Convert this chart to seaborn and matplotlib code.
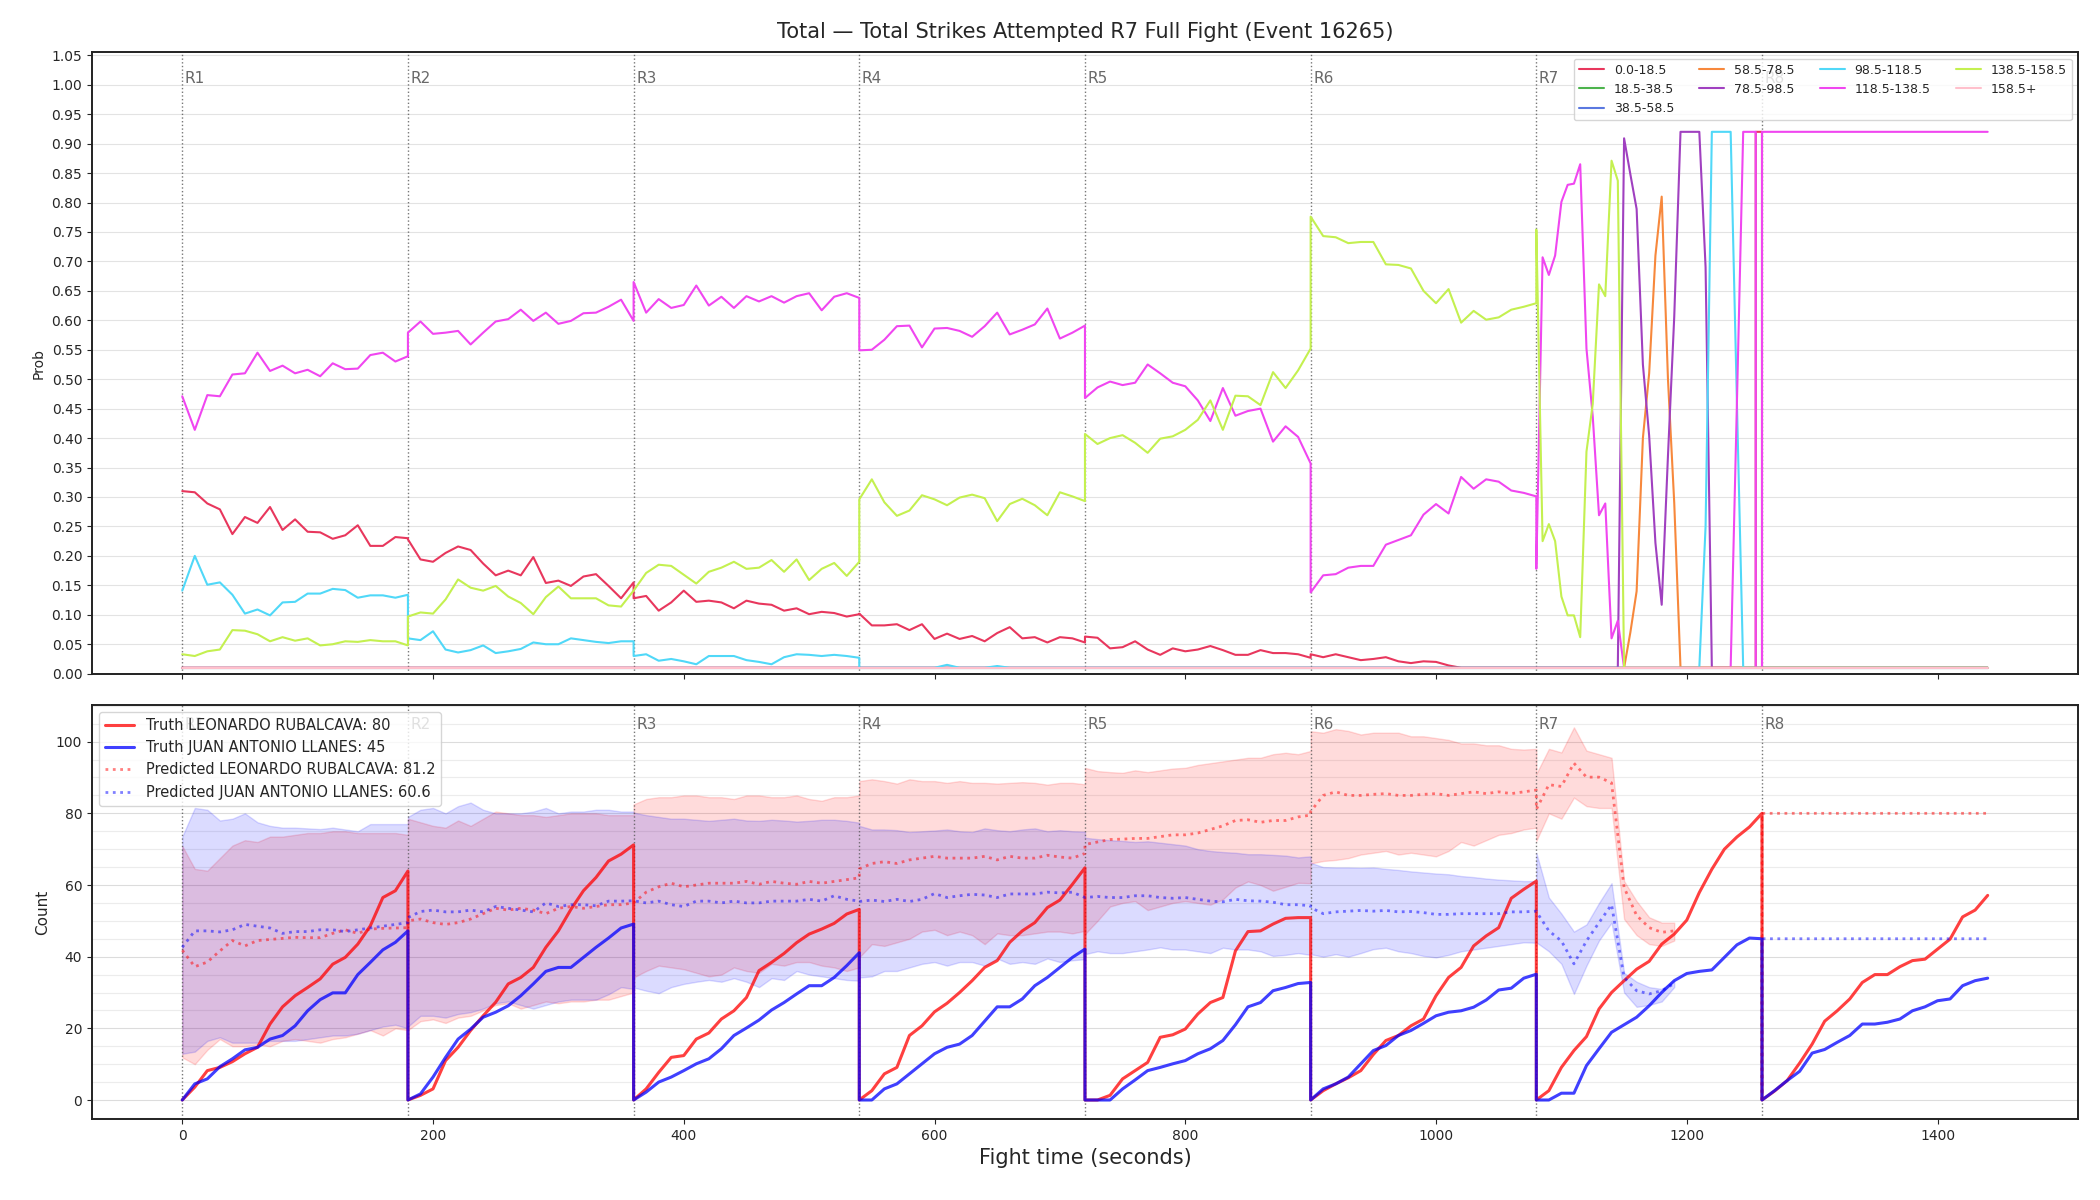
import numpy as np
import pandas as pd
import matplotlib
matplotlib.use('Agg')
import matplotlib.pyplot as plt
import matplotlib.transforms as mtransforms
from matplotlib.ticker import MultipleLocator
import seaborn as sns

# fight layout
rounds = ['R1', 'R2', 'R3', 'R4', 'R5', 'R6', 'R7', 'R8']
round_starts = [0, 180, 360, 540, 720, 900, 1080, 1260]
step_offsets = list(range(0, 181, 10))
# R7 of the prob panel is sampled every 5 s (with a repeated sample at 175 s)
r7_offsets = list(range(0, 180, 5)) + [175, 180]

title = 'Total \u2014 Total Strikes Attempted R7 Full Fight (Event 16265)'
fighter_a = 'LEONARDO RUBALCAVA'
fighter_b = 'JUAN ANTONIO LLANES'
truth_a_total = 80
truth_b_total = 45
pred_a_total = 81.2
pred_b_total = 60.6

bins = ['0.0-18.5', '18.5-38.5', '38.5-58.5', '58.5-78.5', '78.5-98.5',
        '98.5-118.5', '118.5-138.5', '138.5-158.5', '158.5+']
bin_colors = ['#e8375d', '#4cb34c', '#5a78e0', '#f7883c', '#a040c0',
              '#50d8f8', '#f046f0', '#c4f050', '#ffc0cc']

# ---- probability per bin (R1..R6 and R8 every 10 s, R7 every 5 s) ----
p_0_18 = (
    [0.310, 0.308, 0.289, 0.279, 0.237, 0.266, 0.256, 0.283, 0.244, 0.262, 0.241, 0.240, 0.229, 0.235, 0.252, 0.217, 0.217, 0.232, 0.230]
    + [0.228, 0.194, 0.190, 0.205, 0.216, 0.210, 0.187, 0.167, 0.175, 0.167, 0.198, 0.154, 0.158, 0.149, 0.165, 0.169, 0.149, 0.128, 0.155]
    + [0.128, 0.132, 0.107, 0.121, 0.141, 0.122, 0.124, 0.121, 0.111, 0.124, 0.119, 0.117, 0.107, 0.111, 0.101, 0.105, 0.103, 0.097, 0.101]
    + [0.102, 0.082, 0.082, 0.084, 0.074, 0.084, 0.059, 0.068, 0.059, 0.064, 0.055, 0.069, 0.079, 0.060, 0.062, 0.053, 0.062, 0.060, 0.053]
    + [0.063, 0.061, 0.043, 0.045, 0.055, 0.041, 0.032, 0.043, 0.038, 0.041, 0.047, 0.040, 0.032, 0.032, 0.040, 0.035, 0.035, 0.033, 0.027]
    + [0.033, 0.028, 0.033, 0.028, 0.023, 0.025, 0.028, 0.021, 0.018, 0.021, 0.020, 0.014, 0.010, 0.010, 0.010, 0.010, 0.010, 0.010, 0.010]
    + [0.01] * 36 + [0.92, 0.92]
    + [0.01] * 19
)
p_18_38 = [0.01] * 19 * 6 + [0.01] * 38 + [0.01] * 19
p_38_58 = [0.01] * 19 * 6 + [0.01] * 38 + [0.01] * 19
p_58_78 = (
    [0.01] * 19 * 6
    + [0.01] * 15 + [0.07, 0.14, 0.40, 0.51, 0.71, 0.81, 0.50, 0.29] + [0.01] * 15
    + [0.01] * 19
)
p_78_98 = (
    [0.01] * 19 * 6
    + [0.01] * 14
    + [0.909, 0.848, 0.789, 0.525, 0.404, 0.222, 0.117, 0.370, 0.606, 0.920, 0.920, 0.920, 0.920, 0.690]
    + [0.01] * 10
    + [0.01] * 19
)
p_98_118 = (
    [0.141, 0.200, 0.151, 0.155, 0.134, 0.102, 0.109, 0.099, 0.121, 0.122, 0.136, 0.136, 0.144, 0.142, 0.129, 0.133, 0.133, 0.129, 0.134]
    + [0.060, 0.057, 0.072, 0.041, 0.036, 0.040, 0.048, 0.035, 0.038, 0.042, 0.053, 0.050, 0.050, 0.060, 0.057, 0.054, 0.052, 0.055, 0.055]
    + [0.030, 0.033, 0.022, 0.025, 0.021, 0.016, 0.030, 0.030, 0.030, 0.023, 0.020, 0.016, 0.028, 0.033, 0.032, 0.030, 0.032, 0.030, 0.027]
    + [0.010, 0.010, 0.010, 0.010, 0.010, 0.010, 0.010, 0.015, 0.010, 0.010, 0.010, 0.013, 0.010, 0.010, 0.010, 0.010, 0.010, 0.010, 0.010]
    + [0.01] * 19 * 2
    + [0.01] * 27 + [0.25, 0.92, 0.92, 0.92, 0.92, 0.46] + [0.01] * 5
    + [0.01] * 19
)
p_118_138 = (
    [0.471, 0.414, 0.473, 0.471, 0.508, 0.510, 0.545, 0.514, 0.523, 0.510, 0.516, 0.505, 0.527, 0.517, 0.518, 0.541, 0.545, 0.530, 0.539]
    + [0.579, 0.598, 0.577, 0.579, 0.582, 0.559, 0.579, 0.598, 0.602, 0.618, 0.599, 0.613, 0.594, 0.599, 0.612, 0.613, 0.623, 0.635, 0.599]
    + [0.665, 0.613, 0.636, 0.621, 0.626, 0.659, 0.625, 0.640, 0.621, 0.641, 0.632, 0.641, 0.630, 0.641, 0.646, 0.617, 0.640, 0.646, 0.638]
    + [0.549, 0.550, 0.567, 0.590, 0.591, 0.554, 0.586, 0.587, 0.582, 0.572, 0.590, 0.613, 0.576, 0.584, 0.593, 0.620, 0.569, 0.579, 0.591]
    + [0.468, 0.486, 0.496, 0.490, 0.494, 0.525, 0.510, 0.494, 0.488, 0.464, 0.429, 0.485, 0.438, 0.446, 0.450, 0.394, 0.420, 0.402, 0.357]
    + [0.138, 0.167, 0.169, 0.180, 0.183, 0.183, 0.219, 0.227, 0.235, 0.270, 0.288, 0.272, 0.334, 0.314, 0.330, 0.326, 0.311, 0.307, 0.301]
    + [0.178, 0.707, 0.677, 0.710, 0.801, 0.830, 0.832, 0.865, 0.552, 0.437, 0.269, 0.289, 0.060, 0.090, 0.010]
    + [0.01] * 17 + [0.46, 0.92, 0.92, 0.92, 0.01, 0.01]
    + [0.92] * 19
)
p_138_158 = (
    [0.033, 0.030, 0.038, 0.041, 0.074, 0.073, 0.067, 0.055, 0.062, 0.056, 0.060, 0.048, 0.050, 0.055, 0.054, 0.057, 0.055, 0.055, 0.048]
    + [0.097, 0.104, 0.102, 0.126, 0.160, 0.146, 0.141, 0.149, 0.131, 0.120, 0.101, 0.130, 0.148, 0.128, 0.128, 0.128, 0.116, 0.114, 0.141]
    + [0.141, 0.171, 0.185, 0.183, 0.168, 0.153, 0.173, 0.180, 0.190, 0.178, 0.180, 0.193, 0.173, 0.194, 0.159, 0.178, 0.188, 0.166, 0.190]
    + [0.296, 0.330, 0.291, 0.268, 0.277, 0.303, 0.296, 0.286, 0.299, 0.304, 0.298, 0.259, 0.288, 0.297, 0.286, 0.269, 0.308, 0.301, 0.293]
    + [0.407, 0.390, 0.400, 0.405, 0.392, 0.375, 0.399, 0.403, 0.414, 0.431, 0.464, 0.414, 0.472, 0.471, 0.456, 0.512, 0.485, 0.515, 0.552]
    + [0.776, 0.743, 0.741, 0.731, 0.733, 0.733, 0.695, 0.694, 0.688, 0.650, 0.629, 0.653, 0.596, 0.616, 0.601, 0.605, 0.618, 0.623, 0.629]
    + [0.754, 0.225, 0.254, 0.225, 0.131, 0.099, 0.099, 0.062, 0.377, 0.458, 0.661, 0.641, 0.871, 0.837, 0.010]
    + [0.01] * 23
    + [0.01] * 19
)
p_158_up = [0.01] * 19 * 6 + [0.01] * 38 + [0.01] * 19

# ---- counts (every 10 s) ----
truth_a = (
    [0, 3.6, 8.2, 9.1, 10.7, 12.9, 14.7, 21.2, 26.0, 29.1, 31.4, 33.8, 37.9, 39.8, 43.5, 48.6, 56.5, 58.4, 63.9]
    + [0, 1.3, 3.1, 11.0, 14.7, 19.4, 23.5, 27.3, 32.4, 34.2, 37.0, 42.6, 47.2, 53.2, 58.4, 62.1, 66.7, 68.6, 71.2]
    + [0, 3.1, 7.7, 11.9, 12.4, 17.0, 18.7, 22.6, 24.9, 28.6, 36.1, 38.4, 40.9, 43.9, 46.3, 47.7, 49.3, 51.9, 53.2]
    + [0, 2.6, 7.3, 9.1, 18.0, 20.7, 24.6, 27.0, 30.0, 33.3, 37.0, 38.9, 44.0, 47.2, 49.5, 53.7, 55.8, 60.2, 64.8]
    + [0, 0, 1.3, 5.9, 8.2, 10.5, 17.5, 18.2, 19.8, 24.0, 27.2, 28.6, 41.6, 47.0, 47.2, 49.1, 50.7, 50.9, 50.9]
    + [0, 2.6, 4.5, 6.2, 8.2, 12.7, 16.6, 18.0, 20.7, 22.6, 29.1, 34.2, 37.0, 43.0, 45.8, 48.1, 56.3, 58.8, 61.1]
    + [0, 2.6, 9.1, 13.8, 17.7, 25.4, 30.0, 33.3, 36.5, 38.7, 43.5, 46.3, 50.2, 57.9, 64.4, 70.0, 73.4, 76.2, 80.0]
    + [0, 2.5, 5.4, 10.3, 15.6, 22.0, 24.9, 28.2, 32.8, 35.0, 35.0, 37.2, 38.9, 39.3, 42.1, 44.9, 51.1, 53.0, 57.1]
)
truth_b = (
    [0, 4.5, 5.9, 9.3, 11.5, 14.0, 14.7, 17.0, 18.0, 20.7, 24.9, 28.0, 29.9, 29.9, 35.0, 38.4, 41.9, 44.0, 47.2]
    + [0, 1.7, 6.4, 11.9, 17.0, 19.8, 23.1, 24.5, 26.3, 29.1, 32.4, 35.9, 37.0, 37.0, 39.8, 42.6, 45.2, 48.0, 49.1]
    + [0, 2.2, 5.0, 6.4, 8.2, 10.1, 11.5, 14.3, 18.0, 20.1, 22.3, 25.1, 27.2, 29.6, 31.9, 31.9, 34.2, 37.5, 41.1]
    + [0, 0, 3.1, 4.5, 7.3, 10.1, 12.9, 14.7, 15.6, 18.0, 22.0, 26.0, 26.0, 28.2, 31.9, 34.2, 37.0, 39.8, 42.1]
    + [0, 0, 0, 3.1, 5.6, 8.2, 9.1, 10.1, 11.0, 12.9, 14.3, 16.6, 21.0, 26.0, 27.2, 30.5, 31.4, 32.5, 32.8]
    + [0, 3.1, 4.5, 6.4, 10.1, 13.8, 15.2, 18.0, 19.4, 21.4, 23.5, 24.5, 24.9, 25.9, 27.9, 30.7, 31.2, 34.0, 35.1]
    + [0, 0, 1.9, 1.9, 9.6, 14.3, 18.9, 21.0, 23.1, 26.3, 30.0, 33.3, 35.3, 35.9, 36.3, 39.8, 43.3, 45.2, 45.0]
    + [0, 2.6, 5.4, 8.0, 13.1, 14.1, 16.1, 18.0, 21.2, 21.2, 21.7, 22.6, 24.9, 26.0, 27.7, 28.2, 31.9, 33.3, 34.0]
)
nan = np.nan
pred_a = (
    [41.8, 37.2, 38.5, 41.6, 44.5, 43.0, 44.5, 44.8, 45.1, 45.4, 45.3, 45.3, 46.5, 47.5, 46.5, 47.7, 47.9, 48.0, 48.1]
    + [50.0, 50.5, 49.5, 49.0, 49.5, 50.5, 52.0, 53.5, 53.0, 53.5, 53.0, 52.0, 53.5, 54.0, 53.5, 54.0, 54.5, 54.5, 55.0]
    + [55.0, 58.0, 59.5, 60.5, 59.5, 60.0, 60.5, 60.5, 60.5, 61.0, 60.2, 61.0, 60.5, 60.2, 61.0, 60.5, 61.0, 61.5, 62.0]
    + [64.5, 66.0, 66.5, 66.0, 67.0, 67.5, 68.0, 67.5, 67.5, 67.5, 68.0, 67.0, 68.0, 67.5, 67.5, 68.3, 67.8, 67.5, 68.8]
    + [71.3, 72.0, 72.7, 72.8, 73.0, 73.0, 73.5, 74.0, 74.0, 74.5, 75.5, 76.5, 78.0, 78.2, 77.5, 78.0, 78.0, 79.0, 79.5]
    + [80.5, 85.0, 86.0, 85.0, 85.0, 85.3, 85.5, 85.0, 85.0, 85.3, 85.5, 85.0, 85.5, 86.0, 85.5, 86.0, 85.5, 86.0, 86.5]
    + [81.1, 88.0, 87.5, 94.0, 90.1, 90.1, 88.5, 59.3, 51.5, 48.1, 46.8, 47.2, nan, nan, nan, nan, nan, nan, 0]
    + [80.0] * 19
)
pred_b = (
    [42.6, 47.2, 47.2, 46.9, 47.5, 49.0, 48.5, 48.0, 46.5, 47.0, 47.0, 47.5, 47.5, 47.0, 47.5, 48.0, 48.5, 49.0, 49.5]
    + [50.9, 52.6, 53.0, 52.5, 52.5, 53.0, 52.5, 54.0, 53.5, 53.0, 52.5, 55.0, 54.0, 54.5, 54.5, 54.2, 55.5, 55.5, 55.6]
    + [55.6, 55.0, 55.5, 54.5, 54.0, 55.5, 55.5, 55.0, 55.5, 55.0, 55.0, 55.5, 55.5, 55.5, 56.0, 55.5, 57.0, 56.0, 55.5]
    + [55.4, 55.8, 55.4, 56.0, 55.4, 56.0, 57.6, 56.5, 57.0, 57.4, 57.2, 56.5, 57.5, 57.5, 57.5, 58.0, 57.8, 58.0, 56.5]
    + [56.5, 56.8, 56.5, 56.5, 57.0, 57.0, 56.5, 56.3, 56.5, 56.0, 55.5, 55.3, 56.0, 55.6, 55.5, 55.2, 54.5, 54.5, 54.2]
    + [53.7, 52.0, 52.5, 52.7, 52.9, 52.7, 52.9, 52.5, 52.6, 52.3, 51.8, 51.8, 52.0, 52.0, 52.0, 52.0, 52.5, 52.5, 52.7]
    + [52.6, 47.2, 44.4, 38.0, 44.4, 49.5, 54.5, 34.2, 30.5, 29.6, 30.5, 32.5, nan, nan, nan, nan, nan, nan, 0]
    + [45.0] * 19
)
band_a_hi = (
    [70.9, 64.5, 64.0, 67.5, 71.0, 72.5, 72.0, 73.5, 73.5, 74.0, 74.5, 74.5, 75.0, 75.0, 74.5, 74.5, 74.5, 74.5, 74.0]
    + [78.5, 77.5, 76.5, 76.0, 78.0, 76.5, 78.5, 80.5, 80.0, 79.5, 79.5, 79.0, 79.5, 80.0, 80.0, 80.0, 79.5, 79.5, 79.5]
    + [82.5, 84.0, 84.5, 84.5, 85.0, 85.0, 84.5, 84.5, 84.0, 85.0, 85.0, 84.5, 84.5, 85.0, 84.0, 83.5, 84.5, 84.5, 85.0]
    + [89.0, 89.5, 89.0, 88.3, 89.5, 89.0, 89.0, 88.5, 89.0, 88.5, 88.5, 88.3, 88.5, 88.7, 88.5, 88.0, 88.5, 88.5, 88.1]
    + [92.7, 91.8, 91.5, 91.3, 92.0, 91.5, 92.0, 92.5, 92.7, 93.5, 94.0, 94.5, 95.0, 95.5, 95.5, 96.5, 96.9, 96.5, 97.4]
    + [102.9, 102.5, 103.5, 103.0, 102.0, 102.5, 102.5, 102.5, 101.5, 101.5, 101.0, 100.5, 99.5, 99.5, 99.0, 99.0, 98.0, 97.8, 98.0]
    + [91.0, 98.0, 97.0, 104.0, 97.5, 96.5, 95.5, 61.1, 55.5, 51.0, 49.5, 49.5, nan, nan, nan, nan, nan, nan, nan]
    + [nan] * 19
)
band_a_lo = (
    [11.9, 10.0, 14.0, 17.0, 15.0, 15.0, 15.5, 15.0, 16.5, 17.0, 16.5, 16.0, 17.0, 17.5, 18.5, 19.5, 18.0, 20.0, 19.5]
    + [19.5, 22.0, 22.5, 21.5, 23.0, 23.5, 25.0, 26.5, 27.0, 25.5, 26.5, 27.5, 27.0, 27.5, 27.5, 28.0, 28.0, 29.0, 30.0]
    + [34.2, 36.0, 37.5, 37.0, 36.5, 35.5, 34.5, 35.0, 37.0, 36.0, 35.5, 38.0, 37.5, 38.5, 38.5, 37.5, 37.0, 36.0, 37.0]
    + [39.8, 43.5, 43.0, 44.0, 45.0, 47.0, 47.5, 46.0, 47.0, 46.0, 43.5, 46.5, 46.0, 46.0, 46.5, 47.0, 47.0, 46.5, 47.2]
    + [46.3, 50.0, 54.0, 55.0, 55.5, 53.0, 54.0, 55.0, 55.5, 55.0, 54.5, 56.0, 59.3, 61.0, 60.0, 58.4, 59.5, 60.6, 60.5]
    + [66.0, 66.7, 67.0, 67.5, 68.5, 69.0, 69.5, 68.5, 69.0, 68.5, 68.0, 69.5, 72.0, 71.0, 72.5, 74.0, 74.5, 75.5, 76.0]
    + [72.3, 80.0, 78.5, 84.4, 82.0, 81.5, 81.5, 50.5, 46.0, 43.5, 43.0, 44.5, nan, nan, nan, nan, nan, nan, nan]
    + [nan] * 19
)
band_b_hi = (
    [73.5, 81.5, 81.0, 78.0, 78.5, 80.0, 77.5, 76.5, 76.0, 76.0, 75.8, 75.6, 76.0, 75.5, 75.0, 77.0, 77.0, 77.0, 77.0]
    + [79.0, 81.0, 81.5, 80.0, 82.0, 83.0, 81.0, 80.0, 80.0, 80.0, 80.5, 81.5, 80.0, 80.5, 80.5, 81.0, 81.0, 80.5, 80.5]
    + [80.2, 79.5, 79.0, 78.5, 78.5, 78.2, 77.9, 78.2, 78.5, 78.0, 77.9, 78.2, 78.0, 77.7, 77.9, 78.2, 78.2, 77.9, 77.4]
    + [76.5, 75.5, 75.5, 75.3, 74.8, 75.0, 75.2, 75.5, 75.0, 74.8, 75.8, 75.3, 75.0, 75.5, 75.8, 75.0, 75.3, 75.0, 74.9]
    + [73.2, 72.8, 72.5, 72.3, 72.0, 72.2, 71.8, 71.4, 71.0, 70.0, 69.5, 69.2, 69.0, 68.6, 68.6, 68.4, 68.2, 67.7, 68.0]
    + [66.2, 65.0, 64.9, 64.9, 64.8, 64.9, 64.5, 64.2, 63.8, 63.5, 63.2, 63.0, 62.5, 62.2, 61.8, 61.5, 61.3, 61.1, 61.1]
    + [69.0, 56.5, 52.0, 47.0, 49.0, 55.0, 60.5, 35.5, 33.0, 31.5, 31.0, 33.5, nan, nan, nan, nan, nan, nan, nan]
    + [nan] * 19
)
band_b_lo = (
    [12.9, 13.5, 16.5, 17.5, 16.0, 16.0, 16.0, 16.5, 16.5, 16.5, 17.0, 17.5, 18.0, 18.0, 18.5, 19.5, 20.5, 21.0, 20.0]
    + [20.5, 23.5, 23.5, 23.0, 24.0, 24.5, 25.5, 27.0, 27.5, 26.5, 25.5, 26.5, 27.5, 28.0, 28.0, 28.0, 29.5, 31.5, 31.0]
    + [31.4, 30.5, 29.8, 31.5, 32.4, 33.0, 33.5, 33.0, 34.0, 33.0, 31.5, 34.0, 33.5, 36.0, 35.0, 34.5, 34.0, 33.5, 33.3]
    + [34.2, 34.5, 36.0, 36.0, 37.0, 38.0, 38.5, 37.5, 38.5, 38.5, 37.5, 39.5, 38.0, 38.5, 38.0, 39.5, 38.5, 39.0, 39.3]
    + [40.7, 41.5, 41.0, 41.0, 41.5, 42.0, 42.6, 42.0, 42.0, 41.5, 41.0, 42.5, 42.0, 42.0, 41.5, 40.2, 40.5, 41.0, 40.5]
    + [40.7, 40.0, 40.7, 40.0, 41.0, 42.1, 42.5, 41.5, 41.0, 40.2, 39.8, 40.5, 41.5, 42.0, 42.5, 43.0, 43.5, 44.0, 43.9]
    + [44.0, 41.5, 38.0, 29.6, 37.5, 44.5, 49.5, 30.0, 26.0, 26.5, 27.5, 31.5, nan, nan, nan, nan, nan, nan, nan]
    + [nan] * 19
)

# time grids
t_top = []
for r, s in zip(rounds, round_starts):
    offs = r7_offsets if r == 'R7' else step_offsets
    t_top += [s + o for o in offs]
t_bot = [s + o for s in round_starts for o in step_offsets]

prob_series = [p_0_18, p_18_38, p_38_58, p_58_78, p_78_98,
               p_98_118, p_118_138, p_138_158, p_158_up]
prob_df = pd.concat([
    pd.DataFrame({'t': t_top, 'prob': vals, 'bin': b})
    for b, vals in zip(bins, prob_series)
], ignore_index=True)

sns.set_style('ticks')
plt.rcParams['font.family'] = ['DejaVu Sans']

fig, (ax1, ax2) = plt.subplots(2, 1, figsize=(21, 12), dpi=100, sharex=True,
                               gridspec_kw={'height_ratios': [3, 2], 'hspace': 0.06})
fig.subplots_adjust(left=0.0438, right=0.9895, top=0.9564, bottom=0.0675)

# top: bin probabilities
sns.lineplot(data=prob_df, x='t', y='prob', hue='bin', hue_order=bins,
             palette=dict(zip(bins, bin_colors)), estimator=None, sort=False,
             units='bin', linewidth=1.5, ax=ax1)
sns.move_legend(ax1, 'upper right', ncol=4, fontsize=9, title=None, frameon=True)
ax1.set_ylim(0, 1.055)
ax1.yaxis.set_major_locator(MultipleLocator(0.05))
ax1.grid(axis='y', color='#e3e3e3', linewidth=0.8)
ax1.set_axisbelow(True)
ax1.set_ylabel('Prob', fontsize=10)
ax1.set_xlabel('')
ax1.set_title(title, fontsize=15, pad=10)

# bottom: counts
ax2.fill_between(t_bot, band_a_lo, band_a_hi, color='red', alpha=0.14, linewidth=1)
ax2.fill_between(t_bot, band_b_lo, band_b_hi, color='blue', alpha=0.14, linewidth=1)
sns.lineplot(x=t_bot, y=truth_a, estimator=None, sort=False, color='red', alpha=0.75,
             linewidth=2.2, label=f'Truth {fighter_a}: {truth_a_total}', ax=ax2)
sns.lineplot(x=t_bot, y=truth_b, estimator=None, sort=False, color='blue', alpha=0.75,
             linewidth=2.2, label=f'Truth {fighter_b}: {truth_b_total}', ax=ax2)
ax2.plot(t_bot, pred_a, color='red', alpha=0.5, linestyle=':', linewidth=2,
         label=f'Predicted {fighter_a}: {pred_a_total}')
ax2.plot(t_bot, pred_b, color='blue', alpha=0.5, linestyle=':', linewidth=2,
         label=f'Predicted {fighter_b}: {pred_b_total}')
h, l = ax2.get_legend_handles_labels()
ax2.legend(h, l, loc='upper left', fontsize=10.5)
ax2.set_ylim(-5.3, 110.3)
ax2.yaxis.set_minor_locator(MultipleLocator(5))
ax2.tick_params(axis='y', which='minor', length=0)
ax2.grid(axis='y', which='major', color='#dcdcdc', linewidth=0.8)
ax2.grid(axis='y', which='minor', color='#ececec', linewidth=0.8)
ax2.set_axisbelow(True)
ax2.set_ylabel('Count', fontsize=11)
ax2.set_xlabel('Fight time (seconds)', fontsize=15)

# round markers
for ax in (ax1, ax2):
    trans = mtransforms.blended_transform_factory(ax.transData, ax.transAxes)
    for r, s in zip(rounds, round_starts):
        ax.axvline(s, color='#555555', linestyle=':', linewidth=1, alpha=0.8, zorder=1)
        ax.text(s + 2, 0.97, r, transform=trans, ha='left', va='top',
                fontsize=11, color='dimgray')
    for sp in ax.spines.values():
        sp.set_visible(True)
        sp.set_color('#222222')
        sp.set_linewidth(1.4)
    ax.tick_params(labelsize=10)

fig.savefig('out.png', dpi=100)
